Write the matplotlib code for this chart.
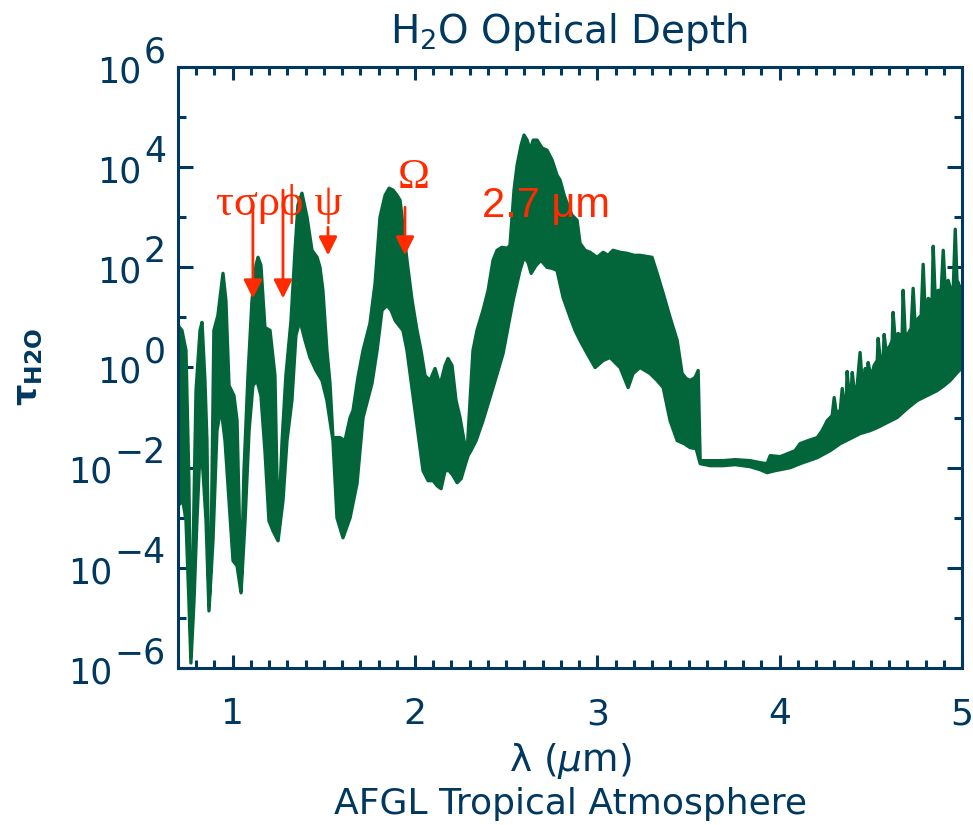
import numpy as np
import matplotlib
matplotlib.use("Agg")
import matplotlib.pyplot as plt
from matplotlib import transforms
from matplotlib.ticker import FixedLocator, MultipleLocator, NullFormatter

NAVY = "#003860"
GREEN = "#02663a"
RED = "#ff2a00"

# top edge of the tau band (wavelength in um, log10 tau)
lam_top = [0.700, 0.722, 0.744, 0.760, 0.771, 0.782, 0.799, 0.821, 0.832, 0.848,
           0.859, 0.870, 0.881, 0.897, 0.919, 0.947, 0.963, 0.980, 1.007, 1.024,
           1.046, 1.062, 1.084, 1.106, 1.128, 1.139, 1.155, 1.177, 1.205, 1.232,
           1.249, 1.271, 1.292, 1.320, 1.342, 1.358, 1.380, 1.408, 1.435, 1.463,
           1.479, 1.495, 1.517, 1.534, 1.550, 1.589, 1.616, 1.644, 1.660, 1.687,
           1.715, 1.753, 1.781, 1.808, 1.836, 1.858, 1.880, 1.901, 1.918, 1.934,
           1.956, 1.984, 2.011, 2.033, 2.055, 2.082, 2.110, 2.137, 2.165, 2.181,
           2.203, 2.225, 2.247, 2.269, 2.286, 2.302, 2.318, 2.340, 2.373, 2.401,
           2.428, 2.450, 2.477, 2.505, 2.521, 2.543, 2.560, 2.582, 2.598, 2.615,
           2.631, 2.648, 2.670, 2.697, 2.724, 2.752, 2.779, 2.796, 2.818, 2.834,
           2.861, 2.889, 2.905, 2.933, 2.960, 2.999, 3.032, 3.059, 3.086, 3.125,
           3.163, 3.202, 3.234, 3.267, 3.300, 3.328, 3.361, 3.399, 3.438, 3.465,
           3.487, 3.509, 3.536, 3.553, 3.564, 3.619, 3.690, 3.756, 3.838, 3.893,
           3.931, 3.948, 4.003, 4.058, 4.085, 4.112, 4.156, 4.206, 4.233, 4.261,
           4.288, 4.299, 4.310, 4.332, 4.343, 4.354, 4.365, 4.370, 4.381, 4.392,
           4.398, 4.409, 4.425, 4.441, 4.452, 4.463, 4.469, 4.480, 4.485, 4.496,
           4.507, 4.518, 4.535, 4.540, 4.551, 4.568, 4.573, 4.584, 4.595, 4.606,
           4.617, 4.622, 4.633, 4.644, 4.650, 4.661, 4.672, 4.677, 4.688, 4.699,
           4.721, 4.732, 4.743, 4.754, 4.760, 4.776, 4.787, 4.798, 4.809, 4.815,
           4.825, 4.836, 4.842, 4.853, 4.864, 4.869, 4.886, 4.897, 4.908, 4.919,
           4.924, 4.935, 4.952, 4.963, 4.974, 4.979, 4.990, 5.001]
logtau_top = [0.84, 0.74, 0.34, -2.26, -5.76, -3.86, -0.46, 0.74, 0.90, -0.26,
              -1.46, -4.76, -3.86, 0.74, 1.04, 1.88, 1.34, -0.36, -0.56, -1.06,
              -4.46, -2.06, -0.16, 1.34, 2.04, 2.20, 2.04, 0.80, 0.74, -0.16,
              -3.36, -1.46, -0.16, 0.94, 2.34, 3.24, 3.48, 3.00, 2.34, 2.20,
              2.00, 1.54, 0.34, -0.32, -1.40, -1.40, -1.46, -1.00, -0.86, -0.20,
              0.34, 0.88, 1.68, 3.00, 3.44, 3.58, 3.54, 3.44, 3.34, 2.84,
              2.14, 1.34, 0.74, 0.34, -0.16, -0.26, -0.02, -0.36, 0.04, 0.18,
              0.04, -0.66, -1.00, -1.46, -1.66, -0.66, 0.34, 0.74, 1.14, 1.54,
              2.14, 2.34, 2.40, 2.38, 2.44, 3.54, 4.04, 4.44, 4.64, 4.54,
              4.34, 4.54, 4.54, 4.38, 4.34, 4.14, 3.84, 3.74, 3.44, 3.28,
              3.04, 2.94, 2.48, 2.34, 2.30, 2.20, 2.30, 2.24, 2.34, 2.30,
              2.28, 2.24, 2.24, 2.22, 2.20, 1.88, 1.48, 1.00, 0.54, -0.12,
              -0.22, -0.26, -0.20, -0.06, -1.86, -1.86, -1.86, -1.84, -1.86, -1.90,
              -1.92, -1.76, -1.78, -1.70, -1.66, -1.52, -1.46, -1.40, -1.26, -1.06,
              -0.96, -0.60, -0.90, -0.86, -0.42, -0.76, -0.66, -0.08, -0.56, -0.50,
              -0.10, -0.46, -0.36, 0.30, -0.26, -0.22, -0.02, -0.18, 0.10, -0.10,
              -0.12, 0.04, 0.14, 0.58, 0.18, 0.24, 0.66, 0.30, 0.38, 0.44,
              0.54, 1.10, 0.58, 0.62, 0.68, 0.64, 0.68, 1.54, 0.68, 0.64,
              0.78, 1.58, 0.84, 0.90, 0.98, 1.04, 2.06, 1.10, 1.24, 1.38,
              1.34, 1.38, 2.42, 1.40, 1.42, 1.54, 1.54, 2.34, 1.58, 1.58,
              1.74, 1.60, 1.58, 2.76, 1.58, 1.70, 1.54, 1.64]

# bottom edge of the tau band
lam_bot = [0.700, 0.727, 0.744, 0.760, 0.771, 0.788, 0.804, 0.821, 0.837, 0.854,
           0.870, 0.892, 0.914, 0.936, 0.958, 0.980, 1.002, 1.024, 1.046, 1.068,
           1.090, 1.111, 1.133, 1.155, 1.177, 1.199, 1.221, 1.249, 1.276, 1.298,
           1.325, 1.347, 1.369, 1.397, 1.424, 1.457, 1.490, 1.517, 1.550, 1.572,
           1.605, 1.644, 1.682, 1.715, 1.764, 1.792, 1.819, 1.847, 1.869, 1.891,
           1.912, 1.934, 1.956, 1.978, 2.000, 2.022, 2.044, 2.072, 2.099, 2.121,
           2.143, 2.165, 2.187, 2.209, 2.231, 2.253, 2.274, 2.291, 2.307, 2.335,
           2.373, 2.428, 2.483, 2.538, 2.576, 2.598, 2.620, 2.637, 2.664, 2.691,
           2.724, 2.752, 2.779, 2.812, 2.851, 2.878, 2.905, 2.944, 2.988, 3.032,
           3.070, 3.097, 3.125, 3.169, 3.196, 3.234, 3.289, 3.328, 3.361, 3.399,
           3.438, 3.476, 3.509, 3.542, 3.564, 3.619, 3.690, 3.756, 3.838, 3.893,
           3.931, 3.975, 4.058, 4.112, 4.206, 4.277, 4.332, 4.387, 4.441, 4.496,
           4.535, 4.589, 4.644, 4.699, 4.754, 4.809, 4.864, 4.902, 4.935, 4.974,
           5.001]
logtau_bot = [-2.76, -2.66, -3.06, -4.66, -5.90, -4.66, -3.06, -1.66, -2.06, -3.06,
              -4.86, -3.46, -1.26, -0.80, -1.46, -2.66, -3.86, -3.96, -4.50, -3.06,
              -1.26, -0.36, -0.26, -0.56, -1.66, -3.06, -3.26, -3.46, -2.66, -1.46,
              -0.66, 0.64, 0.94, 0.54, 0.20, -0.06, -0.26, -0.66, -1.46, -3.00,
              -3.40, -3.00, -2.32, -1.00, -0.32, 0.34, 1.14, 1.24, 1.14, 0.94,
              0.84, 0.74, 0.34, -0.26, -0.86, -1.46, -2.06, -2.26, -2.26, -2.36,
              -2.42, -2.06, -2.06, -2.16, -2.30, -2.22, -1.96, -1.76, -1.66, -1.46,
              -1.06, -0.40, 0.28, 1.34, 1.94, 2.20, 2.10, 1.88, 2.04, 2.14,
              2.00, 1.98, 1.94, 1.40, 1.00, 0.74, 0.54, 0.28, 0.00, 0.14,
              0.20, 0.10, 0.00, -0.40, -0.12, 0.00, -0.12, -0.26, -0.40, -1.06,
              -1.46, -1.52, -1.60, -1.62, -1.92, -1.96, -1.96, -1.94, -1.98, -2.04,
              -2.10, -2.06, -2.00, -1.92, -1.80, -1.66, -1.52, -1.42, -1.32, -1.26,
              -1.20, -1.10, -1.00, -0.82, -0.66, -0.56, -0.46, -0.36, -0.26, -0.10,
              0.00]

# red band labels and arrows
arrow_lam = [1.111, 1.276, 1.523, 1.945]
arrow_from = [3.24, 3.54, 2.80, 3.20]
arrow_to = [1.38, 1.38, 2.24, 2.24]

y_major = [-6, -4, -2, 0, 2, 4, 6]
y_minor = [-5, -3, -1, 1, 3, 5]
x_major = [1, 2, 3, 4, 5]

fig = plt.figure(figsize=(9.73, 8.25), dpi=100)
ax = fig.add_axes([0.1829, 0.1903, 0.8058, 0.7285])

tau_top = 10.0 ** np.array(logtau_top)
tau_bot = 10.0 ** np.array(logtau_bot)
px = np.concatenate([lam_top, lam_bot[::-1]])
py = np.concatenate([tau_top, tau_bot[::-1]])
band = ax.fill(px, py, facecolor=GREEN, edgecolor=GREEN, lw=2.4, zorder=2)[0]
band.set_joinstyle("round")

ax.set_yscale("log")
ax.set_xlim(0.7, 5.0)
ax.set_ylim(1e-6, 1e6)

ax.xaxis.set_major_locator(FixedLocator(x_major))
ax.xaxis.set_minor_locator(MultipleLocator(0.1))
ax.yaxis.set_major_locator(FixedLocator([10.0 ** e for e in y_major]))
ax.yaxis.set_minor_locator(FixedLocator([10.0 ** e for e in y_minor]))
ax.yaxis.set_minor_formatter(NullFormatter())

for s in ax.spines.values():
    s.set_color(NAVY)
    s.set_linewidth(2.2)
    s.set_zorder(3)

ax.tick_params(which="both", direction="in", top=True, right=True,
               color=NAVY, width=2.2)
ax.tick_params(axis="x", which="major", length=9.5, labelsize=26,
               labelcolor=NAVY, pad=21)
ax.tick_params(axis="x", which="minor", length=5.5)
ax.tick_params(axis="y", which="major", length=11, labelleft=False)
ax.tick_params(axis="y", which="minor", length=6)

# y tick labels built as 10 + raised exponent, like the original
exp_tr = transforms.offset_copy(ax.get_yaxis_transform(), fig=fig,
                                x=0, y=3.5, units="points")
for e in y_major:
    ex = ax.text(-0.0153, 10.0 ** e, str(e).replace("-", "\u2212"),
                 transform=exp_tr, ha="right", va="baseline",
                 fontsize=25, color=NAVY)
    ax.annotate("10", xy=(0, 0), xycoords=ex, xytext=(-2, -14.5),
                textcoords="offset points", ha="right", va="bottom",
                fontsize=25, color=NAVY)

# annotations
serif = ["Liberation Serif", "DejaVu Serif"]
ax.text(0.908, 10 ** 3.04, "\u03c4\u03c3\u03c1\u03d5 \u03c8", family=serif,
        fontsize=32, color=RED, ha="left", va="baseline", zorder=4)
ax.text(1.907, 10 ** 3.58, "\u03a9", family=serif, fontsize=31, color=RED,
        ha="left", va="baseline", zorder=4)
ax.text(2.368, 10 ** 3.0, "2.7 \u03bcm", family="Liberation Sans", fontsize=30,
        color=RED, ha="left", va="baseline", zorder=4)
for lam, y0, y1 in zip(arrow_lam, arrow_from, arrow_to):
    ax.annotate("", xy=(lam, 10 ** y1), xytext=(lam, 10 ** y0),
                arrowprops=dict(arrowstyle="-|>,head_width=0.4,head_length=0.8",
                                color=RED, lw=2, shrinkA=0, shrinkB=0,
                                mutation_scale=14), zorder=5)

fig.text(0.585, 0.961, r"H$_2$O Optical Depth", fontsize=28, color=NAVY,
         ha="center", va="center")
fig.text(0.586, 0.078, r"λ ($\mu$m)", fontsize=27, color=NAVY,
         ha="center", va="center")
fig.text(0.586, 0.025, "AFGL Tropical Atmosphere", fontsize=26, color=NAVY,
         ha="center", va="center")
fig.text(0.029, 0.555, r"$\mathbf{\tau}_{\mathbf{H2O}}$", rotation=90,
         fontsize=24, color=NAVY, ha="center", va="center")

fig.savefig("out.png", dpi=100)
